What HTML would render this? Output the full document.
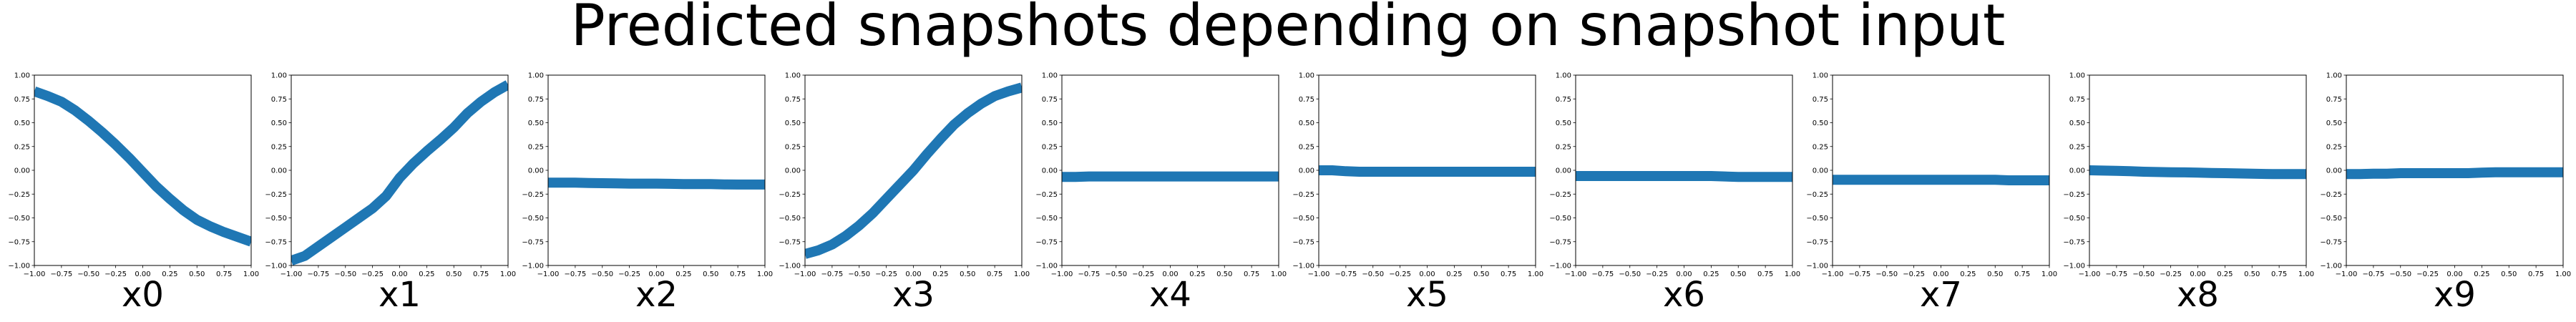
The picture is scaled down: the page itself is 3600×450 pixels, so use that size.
<!DOCTYPE html>
<html><head><meta charset="utf-8"><style>
html,body{margin:0;padding:0;background:#fff;}
svg{display:block;font-family:"DejaVu Sans","Liberation Sans",sans-serif;}
</style></head><body>
<svg id="chart" width="3600" height="450" viewBox="0 0 3600 450">
<text x="1800" y="63" font-size="80" text-anchor="middle">Predicted snapshots depending on snapshot input</text>
<g id="panels"></g>
</svg>
<script>
const panelLabels = ["x0","x1","x2","x3","x4","x5","x6","x7","x8","x9"];
const xValues = [-1,-0.875,-0.75,-0.625,-0.5,-0.375,-0.25,-0.125,0,0.125,0.25,0.375,0.5,0.625,0.75,0.875,1];
const s0 = [0.83,0.78,0.72,0.63,0.52,0.40,0.27,0.13,-0.02,-0.17,-0.3,-0.42,-0.52,-0.59,-0.65,-0.70,-0.75];
const s1 = [-0.95,-0.9,-0.8,-0.7,-0.6,-0.5,-0.4,-0.27,-0.08,0.07,0.2,0.32,0.45,0.6,0.72,0.82,0.9];
const s2 = [-0.13,-0.13,-0.13,-0.133,-0.135,-0.137,-0.14,-0.14,-0.14,-0.142,-0.145,-0.145,-0.145,-0.148,-0.15,-0.15,-0.15];
const s3 = [-0.88,-0.84,-0.78,-0.69,-0.58,-0.45,-0.3,-0.15,0.0,0.17,0.33,0.48,0.6,0.7,0.78,0.83,0.87];
const s4 = [-0.07,-0.07,-0.065,-0.065,-0.065,-0.065,-0.065,-0.065,-0.065,-0.065,-0.065,-0.065,-0.065,-0.065,-0.065,-0.065,-0.065];
const s5 = [0.0,0.0,-0.01,-0.015,-0.015,-0.015,-0.015,-0.015,-0.015,-0.015,-0.015,-0.015,-0.015,-0.015,-0.015,-0.015,-0.015];
const s6 = [-0.06,-0.06,-0.06,-0.06,-0.06,-0.06,-0.06,-0.06,-0.06,-0.06,-0.06,-0.065,-0.07,-0.07,-0.07,-0.07,-0.07];
const s7 = [-0.1,-0.1,-0.1,-0.1,-0.1,-0.1,-0.1,-0.1,-0.1,-0.1,-0.1,-0.1,-0.1,-0.105,-0.105,-0.105,-0.105];
const s8 = [0.0,-0.003,-0.005,-0.01,-0.015,-0.018,-0.02,-0.022,-0.025,-0.028,-0.03,-0.033,-0.035,-0.038,-0.04,-0.04,-0.04];
const s9 = [-0.04,-0.04,-0.035,-0.035,-0.03,-0.03,-0.03,-0.03,-0.03,-0.03,-0.025,-0.02,-0.02,-0.02,-0.02,-0.02,-0.02];
const series = [s0,s1,s2,s3,s4,s5,s6,s7,s8,s9];
const tickValues = [-1,-0.75,-0.5,-0.25,0,0.25,0.5,0.75,1];
const tickLabels = ["\u22121.00","\u22120.75","\u22120.50","\u22120.25","0.00","0.25","0.50","0.75","1.00"];

const NS = "http://www.w3.org/2000/svg";
const root = document.getElementById("panels");
const AX_LEFT0 = 48, AX_STEP = 359, AX_W = 303, AX_TOP = 105, AX_H = 266;
function mk(tag, attrs, parent){const e=document.createElementNS(NS,tag);for(const k in attrs)e.setAttribute(k,attrs[k]);parent.appendChild(e);return e;}

series.forEach((vals, i) => {
  const left = AX_LEFT0 + i*AX_STEP;
  const sx = v => left + (v+1)/2*AX_W;
  const sy = v => AX_TOP + (1-v)/2*AX_H;
  const g = mk("g", {}, root);
  
  
  const clip = mk("clipPath", {id:"clip"+i}, g);
  mk("rect", {x:left, y:AX_TOP, width:AX_W, height:AX_H}, clip);
  const pts = vals.map((v,j)=>sx(xValues[j]).toFixed(1)+","+sy(v).toFixed(1)).join(" ");
  const line = mk("polyline", {points:pts, fill:"none", stroke:"#1f77b4", "stroke-width":14, "stroke-linejoin":"round", "clip-path":"url(#clip"+i+")"}, g);
  
  
  const frame = mk("rect", {x:left, y:AX_TOP, width:AX_W, height:AX_H, fill:"none", stroke:"#000", "stroke-width":1}, g);
  
  
  tickValues.forEach((t,k) => {
    const x = sx(t), y = sy(t);
    mk("line", {x1:x, x2:x, y1:AX_TOP+AX_H, y2:AX_TOP+AX_H+3.5, stroke:"#000", "stroke-width":0.8}, g);
    const xl = mk("text", {x:x, y:AX_TOP+AX_H+15, "font-size":10, "text-anchor":"middle"}, g);
    xl.textContent = tickLabels[k];
    
    
    mk("line", {x1:left-3.5, x2:left, y1:y, y2:y, stroke:"#000", "stroke-width":0.8}, g);
    const yl = mk("text", {x:left-6, y:y+3.5, "font-size":10, "text-anchor":"end"}, g);
    yl.textContent = tickLabels[k];
    
    
  });
  const lab = mk("text", {x:left+AX_W/2, y:428, "font-size":48, "text-anchor":"middle"}, g);
  lab.textContent = panelLabels[i];
  
  
});
</script>
</body></html>
